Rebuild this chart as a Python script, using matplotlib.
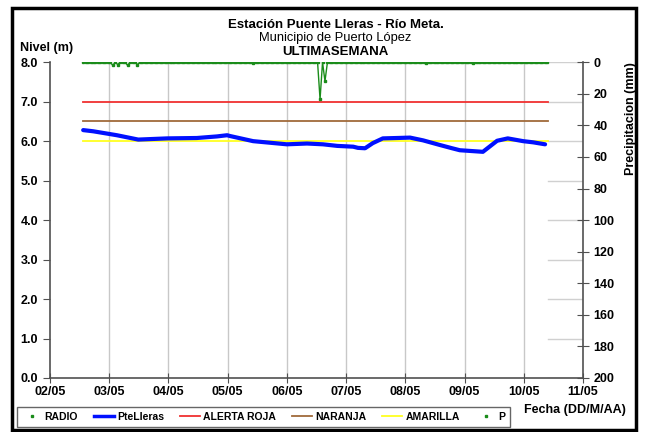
import numpy as np
import matplotlib.pyplot as plt
from matplotlib.patches import Rectangle

plt.rcParams['font.family'] = ['Liberation Sans', 'DejaVu Sans']

# nivel PteLleras (dia, m)
nivel_dia = [2.56, 2.73, 3.13, 3.49, 3.98, 4.48, 4.82, 4.99, 5.04, 5.43, 6.00, 6.34,
             6.61, 6.85, 7.12, 7.20, 7.32, 7.45, 7.62, 7.86, 8.08, 8.30, 8.59, 8.79,
             8.92, 9.31, 9.55, 9.73, 9.99, 10.16, 10.36]
nivel_m = [6.28, 6.25, 6.15, 6.04, 6.07, 6.08, 6.12, 6.15, 6.13, 6.00, 5.92, 5.94,
           5.92, 5.88, 5.86, 5.83, 5.82, 5.95, 6.07, 6.08, 6.09, 6.02, 5.90, 5.82,
           5.77, 5.73, 6.01, 6.07, 6.00, 5.97, 5.92]

# precipitacion P (dia, mm) - lecturas distintas de cero
p_inicio, p_fin = 2.56, 10.41
p_eventos_dia = [3.06, 3.14, 3.31, 3.46, 5.45, 6.58, 6.63, 8.37, 9.14]
p_eventos_mm = [2.0, 1.5, 2.0, 1.5, 0.8, 23.5, 12.0, 0.8, 0.8]

alerta_roja = 7.0
naranja = 6.5
amarilla = 6.0

dias = np.arange(2, 12)
etiquetas = ["%02d/05" % d for d in dias]

fig = plt.figure(figsize=(6.58, 4.32), dpi=100)
ax = fig.add_axes([0.076, 0.125, 0.81, 0.731])
ax2 = ax.twinx()

# serie P horaria: ceros salvo los eventos
t_p = np.round(np.arange(p_inicio, p_fin, 1 / 24), 3)
p = np.zeros_like(t_p)
for d, v in zip(p_eventos_dia, p_eventos_mm):
    p[np.argmin(np.abs(t_p - d))] = v

for d in dias[1:-1]:
    ax.axvline(d, color='#c8c8c8', lw=1, zorder=0)
for y in range(0, 9):
    ax.plot([p_fin, 11], [y, y], color='#d0d0d0', lw=1, zorder=0)

ax.plot([p_inicio, p_fin], [alerta_roja] * 2, color='#f03030', lw=1.3)
ax.plot([p_inicio, p_fin], [naranja] * 2, color='#a06a3a', lw=1.3)
ax.plot([p_inicio, p_fin], [amarilla] * 2, color='#ffff20', lw=1.3)
ax.plot(nivel_dia, nivel_m, color='#0010ff', lw=3, solid_capstyle='round')

ax2.plot(t_p, p, color='#1a8c1a', lw=1, marker='s', ms=1.5, mec='#1a8c1a')

ax.set_xlim(2, 11)
ax.set_ylim(0, 8)
ax2.set_ylim(200, 0)
ax.set_xticks(dias)
ax.set_xticklabels(etiquetas)
ax.set_yticks(range(0, 9))
ax.set_yticklabels(["%.1f" % v for v in range(0, 9)])
ax2.set_yticks(range(0, 201, 20))

for a in (ax, ax2):
    for s in a.spines.values():
        s.set_visible(False)
ax.spines['left'].set_visible(True)
ax.spines['bottom'].set_visible(True)
ax2.spines['right'].set_visible(True)
for s in (ax.spines['left'], ax.spines['bottom'], ax2.spines['right']):
    s.set_color('#505050')
    s.set_linewidth(1.2)

ax.tick_params(axis='y', direction='out', length=5, color='#505050', labelsize=9)
ax.tick_params(axis='x', direction='inout', length=7, color='#505050', labelsize=9, pad=2)
ax2.tick_params(axis='y', direction='inout', length=8, color='#505050', labelsize=9)
for lab in ax.get_xticklabels() + ax.get_yticklabels() + ax2.get_yticklabels():
    lab.set_fontweight('bold')

ax2.set_ylabel("Precipitacion (mm)", fontsize=9, fontweight='bold')
ax2.yaxis.set_label_coords(1.079, 0.823)

fig.text(0.51, 0.942, "Estación Puente Lleras - Río Meta.", ha='center', va='center',
         fontsize=9.5, fontweight='bold')
fig.text(0.51, 0.912, "Municipio de Puerto López", ha='center', va='center', fontsize=9.3)
fig.text(0.51, 0.880, "ULTIMASEMANA", ha='center', va='center', fontsize=9.5, fontweight='bold')
fig.text(0.03, 0.889, "Nivel (m)", va='center', fontsize=9, fontweight='bold')
fig.text(0.796, 0.051, "Fecha (DD/M/AA)", va='center', fontsize=9, fontweight='bold')

h = [plt.Line2D([], [], color='#1a8c1a', marker='s', ms=2, ls='none'),
     plt.Line2D([], [], color='#0010ff', lw=2.5),
     plt.Line2D([], [], color='#f03030', lw=1.3),
     plt.Line2D([], [], color='#a06a3a', lw=1.3),
     plt.Line2D([], [], color='#ffff20', lw=1.3),
     plt.Line2D([], [], color='#1a8c1a', marker='s', ms=2, ls='none')]
labels = ["RADIO", "PteLleras", "ALERTA ROJA", "NARANJA", "AMARILLA", "P"]
leg = fig.legend(h, labels, loc='lower left', bbox_to_anchor=(0.018, 0.0), ncol=6,
                 fontsize=7.5, frameon=True, fancybox=False, handlelength=1.9,
                 handletextpad=0.3, columnspacing=1.55, borderpad=0.45)
leg.get_frame().set_edgecolor('#404040')
leg.get_frame().set_linewidth(1)
for t in leg.get_texts():
    t.set_fontweight('bold')

fig.patches.append(Rectangle((0.018, 0.004), 0.949, 0.978, transform=fig.transFigure,
                             fill=False, edgecolor='black', lw=2.5))

fig.savefig("out.png", dpi=100)
